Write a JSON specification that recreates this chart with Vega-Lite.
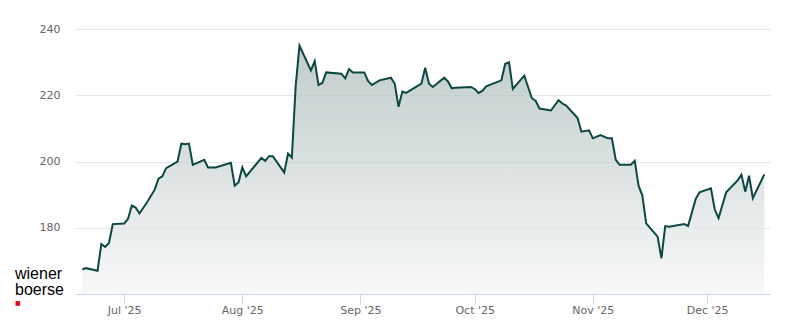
{
  "$schema": "https://vega.github.io/schema/vega-lite/v6.json",
  "width": 695,
  "height": 265,
  "autosize": "none",
  "padding": {"left": 75, "top": 29, "right": 30, "bottom": 30},
  "background": "white",
  "config": {"view": {"stroke": null}, "font": "DejaVu Sans"},
  "title": {
    "text": ["wiener", "boerse"],
    "subtitle": "■",
    "orient": "bottom",
    "anchor": "start",
    "frame": "group",
    "font": "Liberation Sans",
    "fontSize": 16,
    "fontWeight": "normal",
    "color": "#000000",
    "lineHeight": 16,
    "dx": -60,
    "dy": -53,
    "subtitleColor": "#e2001a",
    "subtitleFont": "DejaVu Sans",
    "subtitleFontSize": 6,
    "subtitlePadding": 2
  },
  "data": {
    "values": [
      {"date": "2025-06-20", "price": 167.4},
      {"date": "2025-06-21", "price": 167.8},
      {"date": "2025-06-24", "price": 167.0},
      {"date": "2025-06-25", "price": 175.1},
      {"date": "2025-06-26", "price": 174.2},
      {"date": "2025-06-27", "price": 175.4},
      {"date": "2025-06-28", "price": 181.1},
      {"date": "2025-07-01", "price": 181.3},
      {"date": "2025-07-02", "price": 182.7},
      {"date": "2025-07-03", "price": 186.7},
      {"date": "2025-07-04", "price": 186.1},
      {"date": "2025-07-05", "price": 184.3},
      {"date": "2025-07-07", "price": 187.7},
      {"date": "2025-07-09", "price": 191.5},
      {"date": "2025-07-10", "price": 194.8},
      {"date": "2025-07-11", "price": 195.5},
      {"date": "2025-07-12", "price": 198.0},
      {"date": "2025-07-15", "price": 200.0},
      {"date": "2025-07-16", "price": 205.4},
      {"date": "2025-07-17", "price": 205.2},
      {"date": "2025-07-18", "price": 205.4},
      {"date": "2025-07-19", "price": 199.0},
      {"date": "2025-07-22", "price": 200.5},
      {"date": "2025-07-23", "price": 198.2},
      {"date": "2025-07-25", "price": 198.2},
      {"date": "2025-07-29", "price": 199.6},
      {"date": "2025-07-30", "price": 192.7},
      {"date": "2025-07-31", "price": 193.7},
      {"date": "2025-08-01", "price": 198.2},
      {"date": "2025-08-02", "price": 195.5},
      {"date": "2025-08-06", "price": 201.1},
      {"date": "2025-08-07", "price": 200.2},
      {"date": "2025-08-08", "price": 201.6},
      {"date": "2025-08-09", "price": 201.6},
      {"date": "2025-08-12", "price": 196.7},
      {"date": "2025-08-13", "price": 202.4},
      {"date": "2025-08-14", "price": 201.2},
      {"date": "2025-08-15", "price": 222.7},
      {"date": "2025-08-16", "price": 235.0},
      {"date": "2025-08-19", "price": 227.5},
      {"date": "2025-08-20", "price": 230.3},
      {"date": "2025-08-21", "price": 223.1},
      {"date": "2025-08-22", "price": 223.7},
      {"date": "2025-08-23", "price": 226.9},
      {"date": "2025-08-27", "price": 226.5},
      {"date": "2025-08-28", "price": 225.1},
      {"date": "2025-08-29", "price": 227.9},
      {"date": "2025-08-30", "price": 226.9},
      {"date": "2025-09-02", "price": 226.9},
      {"date": "2025-09-03", "price": 224.3},
      {"date": "2025-09-04", "price": 223.1},
      {"date": "2025-09-06", "price": 224.5},
      {"date": "2025-09-09", "price": 225.3},
      {"date": "2025-09-10", "price": 223.5},
      {"date": "2025-09-11", "price": 216.5},
      {"date": "2025-09-12", "price": 221.1},
      {"date": "2025-09-13", "price": 220.7},
      {"date": "2025-09-17", "price": 223.5},
      {"date": "2025-09-18", "price": 228.3},
      {"date": "2025-09-19", "price": 223.5},
      {"date": "2025-09-20", "price": 222.5},
      {"date": "2025-09-23", "price": 225.3},
      {"date": "2025-09-24", "price": 224.1},
      {"date": "2025-09-25", "price": 222.1},
      {"date": "2025-09-26", "price": 222.3},
      {"date": "2025-09-30", "price": 222.5},
      {"date": "2025-10-01", "price": 221.9},
      {"date": "2025-10-02", "price": 220.7},
      {"date": "2025-10-03", "price": 221.3},
      {"date": "2025-10-04", "price": 222.7},
      {"date": "2025-10-08", "price": 224.5},
      {"date": "2025-10-09", "price": 229.5},
      {"date": "2025-10-10", "price": 229.9},
      {"date": "2025-10-11", "price": 221.9},
      {"date": "2025-10-14", "price": 225.9},
      {"date": "2025-10-16", "price": 219.1},
      {"date": "2025-10-17", "price": 218.3},
      {"date": "2025-10-18", "price": 216.0},
      {"date": "2025-10-21", "price": 215.4},
      {"date": "2025-10-23", "price": 218.5},
      {"date": "2025-10-24", "price": 217.5},
      {"date": "2025-10-25", "price": 216.9},
      {"date": "2025-10-28", "price": 213.1},
      {"date": "2025-10-29", "price": 209.0},
      {"date": "2025-10-31", "price": 209.4},
      {"date": "2025-11-01", "price": 207.0},
      {"date": "2025-11-03", "price": 208.0},
      {"date": "2025-11-05", "price": 207.0},
      {"date": "2025-11-06", "price": 207.0},
      {"date": "2025-11-07", "price": 200.6},
      {"date": "2025-11-08", "price": 199.0},
      {"date": "2025-11-11", "price": 199.0},
      {"date": "2025-11-12", "price": 200.2},
      {"date": "2025-11-13", "price": 192.7},
      {"date": "2025-11-14", "price": 189.7},
      {"date": "2025-11-15", "price": 181.3},
      {"date": "2025-11-18", "price": 177.3},
      {"date": "2025-11-19", "price": 170.8},
      {"date": "2025-11-20", "price": 180.5},
      {"date": "2025-11-21", "price": 180.3},
      {"date": "2025-11-25", "price": 181.1},
      {"date": "2025-11-26", "price": 180.5},
      {"date": "2025-11-28", "price": 188.7},
      {"date": "2025-11-29", "price": 190.7},
      {"date": "2025-12-02", "price": 191.9},
      {"date": "2025-12-03", "price": 185.5},
      {"date": "2025-12-04", "price": 182.9},
      {"date": "2025-12-06", "price": 190.7},
      {"date": "2025-12-09", "price": 194.3},
      {"date": "2025-12-10", "price": 196.0},
      {"date": "2025-12-11", "price": 190.9},
      {"date": "2025-12-12", "price": 195.7},
      {"date": "2025-12-13", "price": 188.9},
      {"date": "2025-12-16", "price": 196.1}
    ]
  },
  "mark": {
    "type": "area",
    "line": {"color": "#0d4741", "strokeWidth": 2},
    "color": {
      "gradient": "linear",
      "x1": 0, "y1": 0, "x2": 0, "y2": 1,
      "stops": [
        {"offset": 0, "color": "#a5b7b5"},
        {"offset": 1, "color": "#f4f5f6"}
      ]
    }
  },
  "encoding": {
    "x": {
      "field": "date",
      "type": "temporal",
      "scale": {
        "type": "utc",
        "domain": [
          {"year": 2025, "month": 6, "date": 18, "hours": 2, "utc": true},
          {"year": 2025, "month": 12, "date": 17, "hours": 12, "utc": true}
        ]
      },
      "axis": {
        "title": null,
        "grid": false,
        "values": [
          {"year": 2025, "month": 7, "date": 1, "utc": true},
          {"year": 2025, "month": 8, "date": 1, "utc": true},
          {"year": 2025, "month": 9, "date": 1, "utc": true},
          {"year": 2025, "month": 10, "date": 1, "utc": true},
          {"year": 2025, "month": 11, "date": 1, "utc": true},
          {"year": 2025, "month": 12, "date": 1, "utc": true}
        ],
        "format": "%b '%y",
        "domainColor": "#ccd6eb",
        "tickColor": "#ccd6eb",
        "tickSize": 10,
        "labelPadding": 0,
        "labelColor": "#666666",
        "labelFontSize": 11,
        "labelFont": "DejaVu Sans",
        "labelFlush": false,
        "zindex": 1
      }
    },
    "y": {
      "field": "price",
      "type": "quantitative",
      "scale": {"domain": [160, 240], "zero": false, "nice": false},
      "axis": {
        "title": null,
        "values": [180, 200, 220, 240],
        "grid": true,
        "gridColor": "#e6e6e6",
        "domain": false,
        "ticks": false,
        "labelPadding": 15,
        "labelColor": "#666666",
        "labelFontSize": 11,
        "labelFont": "DejaVu Sans"
      }
    },
    "y2": {"datum": 160}
  }
}
